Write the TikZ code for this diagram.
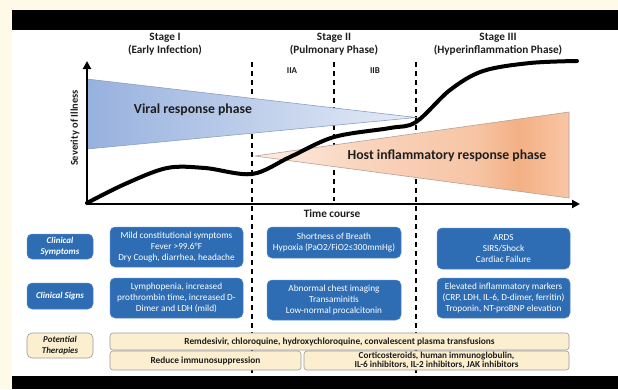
\documentclass[tikz,border=0pt]{standalone}
\usepackage{fontspec}
\setmainfont{Carlito}
\usetikzlibrary{arrows.meta}
\definecolor{bgcream}{HTML}{FFF9E8}
\definecolor{boxblue}{HTML}{2E6DB4}
\definecolor{boxblueedge}{HTML}{5B8BC8}
\definecolor{boxcream}{HTML}{FCEFCF}
\definecolor{creamedge}{HTML}{9A9A9A}
\definecolor{blueL}{HTML}{97B1DE}
\definecolor{blueR}{HTML}{E6ECF7}
\definecolor{blueEdge}{HTML}{8AA0C8}
\definecolor{pkA}{HTML}{FDEDE3}
\definecolor{pkB}{HTML}{F9D4BD}
\definecolor{pkC}{HTML}{F7C5A5}
\definecolor{pkD}{HTML}{F3B084}
\definecolor{pkE}{HTML}{F8C6A6}
\definecolor{peachEdge}{HTML}{B8A095}
\definecolor{txtdark}{HTML}{1E1E1E}
\pgfdeclarehorizontalshading{peachshade}{100bp}{color(0bp)=(pkA); color(25bp)=(pkA); color(42bp)=(pkB); color(60bp)=(pkC); color(67bp)=(pkD); color(75bp)=(pkE); color(100bp)=(pkE)}
\newcommand\myfs[2]{\fontsize{#1}{#2}\selectfont}
\begin{document}
\begin{tikzpicture}[x=1bp,y=-1bp,
  dashline/.style={black, line width=1.1bp, dash pattern=on 5bp off 4bp},
  axisline/.style={black, line width=2.5bp, -{Triangle[length=8bp,width=8bp]}},
  curveline/.style={black, line width=4bp, line cap=round},
  head/.style={font=\myfs{11.3}{13}\bfseries, align=center, text=txtdark},
  sub/.style={font=\myfs{9}{10}\bfseries, text=txtdark},
  phase/.style={font=\myfs{13.8}{15}\bfseries, text=txtdark},
  bluebox/.style={fill=boxblue, draw=boxblueedge, line width=0.5bp, rounded corners=5bp, text=white, align=center, font=\myfs{9.3}{11}\selectfont, inner sep=0pt},
  rowlabel/.style={bluebox, font=\myfs{9}{11}\bfseries\itshape},
  creambox/.style={fill=boxcream, draw=creamedge, line width=0.6bp, rounded corners=3bp, text=txtdark, align=center, font=\myfs{9.4}{10.5}\bfseries, inner sep=0pt},
  ptlabel/.style={creambox, rounded corners=5bp, font=\myfs{9}{11}\bfseries\itshape}
]
\useasboundingbox (0,0) rectangle (618,389);
\fill[bgcream] (0,0) rectangle (618,389);
\fill[white] (12,30) rectangle (618,376);
\fill[black] (12,10) rectangle (618,30);
\fill[black] (12,376) rectangle (618,389);

% dashed stage separators
\coordinate (d1t) at (252,62); \coordinate (d1b) at (252,376);
\coordinate (d2t) at (334,62); \coordinate (d2b) at (334,201);
\coordinate (d3t) at (416,62); \coordinate (d3b) at (416,376);
\draw[dashline] (d1t) -- (d1b);
\draw[dashline] (d2t) -- (d2b);
\draw[dashline] (d3t) -- (d3b);

% phase wedges
\shadedraw[left color=blueL, right color=blueR, draw=blueEdge, line width=0.6bp]
  (87,79) -- (416,117.5) -- (87,149) -- cycle;
\shadedraw[shading=peachshade, draw=peachEdge, line width=0.6bp]
  (255,156) -- (569,112) -- (569,198) -- cycle;

% severity curve
\draw[curveline] plot[smooth, tension=0.55] coordinates {(87,203) (125,184) (167,168) (205,168) (252,174) (290,157) (334,137) (390,128) (416,122) (450,90) (483,71) (530,63) (577,61)};

% axes
\coordinate (o) at (87,204);
\coordinate (ytop) at (87,61);
\coordinate (xend) at (580,204);
\draw[axisline] ([yshift=-1.25bp]o) -- (ytop);
\draw[axisline] ([xshift=-1.25bp]o) -- (xend);

% headings
\node[head] (st1) at (165,44) {Stage I\\(Early Infection)};
\node[head] (st2) at (334,44) {Stage II\\(Pulmonary Phase)};
\node[head] (st3) at (498,44) {Stage III\\(Hyperinflammation Phase)};
\node[sub] (iia) at (292,71) {IIA};
\node[sub] (iib) at (375,71) {IIB};
\node[head, font=\myfs{10.5}{12}\bfseries, rotate=90] (sev) at (75,128) {Severity of Illness};
\node[head] (tc) at (332,214) {Time course};
\node[phase] (vrp) at (193,110) {Viral response phase};
\node[phase] (hirp) at (447,156) {Host inflammatory response phase};

% row labels
\node[rowlabel, minimum width=66bp, minimum height=25bp] (lsym) at (60,246.5) {Clinical\\Symptoms};
\node[rowlabel, minimum width=66bp, minimum height=26bp] (lsig) at (60,296) {Clinical Signs};
\node[ptlabel, minimum width=66bp, minimum height=25bp] (lthe) at (60,345.5) {Potential\\Therapies};

% symptoms
\node[bluebox, minimum width=133bp, minimum height=40bp] (sy1) at (176.5,247) {Mild constitutional symptoms\\Fever >99.6°F\\Dry Cough, diarrhea, headache};
\node[bluebox, minimum width=134bp, minimum height=31bp] (sy2) at (334,242.5) {Shortness of Breath\\Hypoxia (PaO2/FiO2≤300mmHg)};
\node[bluebox, minimum width=133bp, minimum height=41bp] (sy3) at (503.5,248.5) {ARDS\\SIRS/Shock\\Cardiac Failure};

% signs
\node[bluebox, minimum width=133bp, minimum height=40bp] (sg1) at (176.5,298) {Lymphopenia, increased\\prothrombin time, increased D-\\Dimer and LDH (mild)};
\node[bluebox, minimum width=134bp, minimum height=40bp] (sg2) at (334,300) {Abnormal chest imaging\\Transaminitis\\Low-normal procalcitonin};
\node[bluebox, minimum width=133bp, minimum height=40bp] (sg3) at (503.5,298) {Elevated inflammatory markers\\(CRP, LDH, IL-6, D-dimer, ferritin)\\Troponin, NT-proBNP elevation};

% therapies
\node[creambox, minimum width=459bp, minimum height=17bp] (th1) at (339.5,341.5) {Remdesivir, chloroquine, hydroxychloroquine, convalescent plasma transfusions};
\node[creambox, minimum width=191bp, minimum height=19bp] (th2) at (205.5,360.5) {Reduce immunosuppression};
\node[creambox, minimum width=265bp, minimum height=19bp, font=\myfs{9.2}{9.3}\bfseries] (th3) at (436.5,360.5) {Corticosteroids, human immunoglobulin,\\IL-6 inhibitors, IL-2 inhibitors, JAK inhibitors};
\end{tikzpicture}
\end{document}
